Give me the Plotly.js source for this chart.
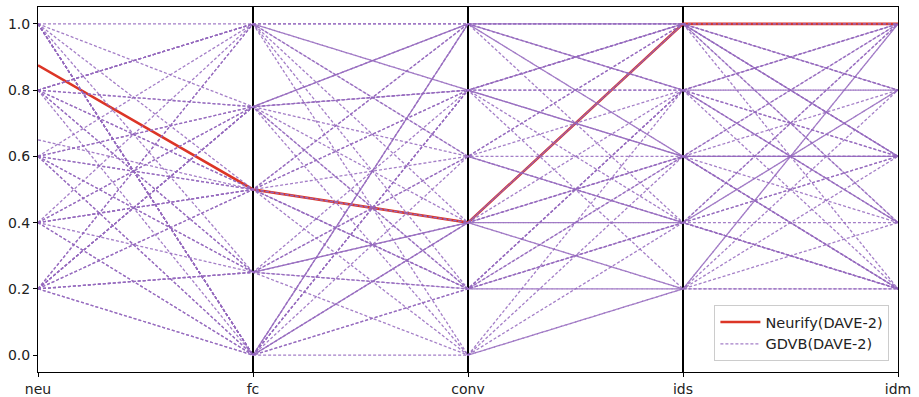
<!DOCTYPE html>
<html>
<head>
<meta charset="utf-8">
<script src="https://cdn.plot.ly/plotly-3.0.1.min.js"></script>
<style>html,body{margin:0;padding:0;background:#fff;}#chart{width:919px;height:397px;}</style>
</head>
<body>
<div id="chart"></div>
<script>
var dims = ["neu", "fc", "conv", "ids", "idm"];

// Neurify(DAVE-2) row
var neurify = [0.875, 0.5, 0.4, 1.0, 1.0];

// GDVB(DAVE-2) rows, one value per dimension
var gNeu  = [1.0,1.0,1.0,1.0,1.0,1.0,0.8,0.8,0.8,0.8,0.8,0.8,0.8,0.6,0.6,0.6,0.6,0.6,0.4,0.4,0.4,0.4,0.4,0.2,0.2,0.2,0.2,0.2,0.2,0.2,1.0,0.8,0.6,0.4,0.2,0.8,0.6,0.2,1.0,0.4,0.8,0.2,0.6,1.0,0.4,0.2,0.8,0.6,0.2,0.4,1.0,0.2,0.65];
var gFc   = [1.0,0.75,0,0,0,0,1.0,1.0,0.75,0.5,0.25,1.0,0,0.75,0.5,0.25,1.0,0.5,0.5,0.25,0,0.75,0,1.0,0.75,0.75,0.5,0.25,0,0.75,0.5,1.0,0.75,1.0,0.25,0.5,0,0,0.25,0.5,0.75,1.0,0.25,0,0.75,0.5,0.25,0,0.75,0.5,0,0.25,0.5];
var gConv = [1.0,0.8,1.0,0.8,0.4,0.8,0.8,0.6,0.4,0.2,0.2,0,0.6,1.0,0.4,0.6,0.4,0.8,1.0,0.2,1.0,0.6,0.2,0.2,0,1.0,0.4,0.8,0.4,0.2,0,1.0,0.2,0.8,0,1.0,0.4,0.8,0.6,0.6,0.8,0.6,0.4,0,1.0,0.2,0.4,0.2,0.8,0.8,1.0,0.4,0.2];
var gIds  = [1.0,1.0,1.0,0.6,1.0,1.0,0.8,0.6,0.6,0.6,0.8,0.4,1.0,0.8,0.4,0.8,0.2,0.6,0.8,0.2,1.0,0.4,0.6,0.4,0.8,0.6,1.0,0.4,0.2,0.2,0.2,0.8,0.8,1.0,0.6,0.4,0.6,0.2,0.4,0.4,1.0,1.0,0.8,0.2,1.0,0.4,0.4,0.8,0.6,0.8,0.6,0.6,0.4];
var gIdm  = [1.0,0.8,0.6,0.6,1.0,0.8,0.8,0.4,0.6,1.0,0.2,0.2,0.6,0.6,0.4,1.0,0.2,0.2,1.0,0.6,0.8,0.8,0.6,0.2,0.4,0.2,0.6,0.6,1.0,0.4,0.8,1.0,0.4,0.4,0.8,0.2,0.2,0.2,1.0,0.6,0.6,0.4,0.8,1.0,0.2,1.0,0.2,0.6,1.0,0.4,0.6,0.2,0.8];

var xIdx = dims.map(function(d, i){ return i; });

var gx = [], gy = [];
for (var r = 0; r < gNeu.length; r++) {
  var row = [gNeu[r], gFc[r], gConv[r], gIds[r], gIdm[r]];
  for (var k = 0; k < dims.length; k++) { gx.push(xIdx[k]); gy.push(row[k]); }
  gx.push(null); gy.push(null);
}

var traces = [
  {x: xIdx, y: neurify, mode: 'lines', name: 'Neurify(DAVE-2)',
   line: {color: '#dc3526', width: 2.6}, hoverinfo: 'skip'},
  {x: gx, y: gy, mode: 'lines', name: 'GDVB(DAVE-2)', connectgaps: false,
   line: {color: 'rgba(148,103,189,0.85)', width: 1.3, dash: '3px,2px'}, hoverinfo: 'skip'}
];

var layout = {
  width: 919, height: 397,
  margin: {l: 38, r: 21, t: 7, b: 25},
  paper_bgcolor: '#fff', plot_bgcolor: '#fff',
  font: {family: 'DejaVu Sans', size: 14, color: '#222'},
  showlegend: true,
  legend: {x: 0.99, y: 0.03, xanchor: 'right', yanchor: 'bottom',
           bgcolor: 'rgba(255,255,255,0.85)', bordercolor: '#cccccc', borderwidth: 1,
           itemwidth: 40, tracegroupgap: 2,
           font: {family: 'DejaVu Sans', size: 14.5, color: '#222'}},
  xaxis: {range: [0, 4], tickvals: xIdx, ticktext: dims, showgrid: true,
          gridcolor: '#000', gridwidth: 1.3, zeroline: false,
          showline: true, linecolor: '#000', linewidth: 1, mirror: true,
          ticks: 'outside', ticklen: 4, tickcolor: '#000',
          tickfont: {family: 'DejaVu Sans', size: 14, color: '#222'}},
  yaxis: {range: [-0.051, 1.051], tickvals: [0,0.2,0.4,0.6,0.8,1.0],
          ticktext: ['0.0','0.2','0.4','0.6','0.8','1.0'],
          showgrid: false, zeroline: false, showline: true, linecolor: '#000',
          linewidth: 1, mirror: true, ticks: 'outside', ticklen: 4, tickcolor: '#000',
          tickfont: {family: 'DejaVu Sans', size: 14, color: '#222'}}
};

Plotly.newPlot('chart', traces, layout, {displayModeBar: false, staticPlot: true});
</script>
</body>
</html>
